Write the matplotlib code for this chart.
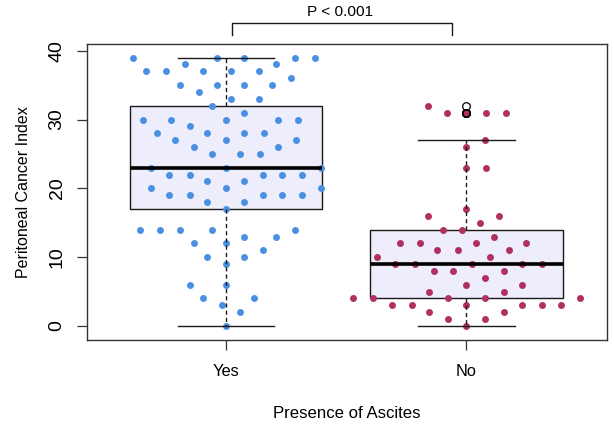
"""Peritoneal Cancer Index by presence of ascites: box plot with jittered points."""

import matplotlib

matplotlib.use("Agg")
import matplotlib.pyplot as plt

plt.rcParams["font.family"] = ["Liberation Sans", "DejaVu Sans"]

groups = ["Yes", "No"]

# PCI values, with the horizontal jitter each point had.
yes_values = [
    39, 39, 39, 39, 39, 38, 38, 37, 37, 37, 37, 37, 36, 35, 35, 35, 35, 34,
    33, 33, 32, 31, 30, 30, 30, 30, 30, 29, 28, 28, 28, 28, 27, 27, 27, 26,
    26, 25, 25, 25, 23, 23, 23, 22, 22, 22, 22, 22, 21, 21, 20, 20, 20, 19,
    19, 19, 19, 19, 18, 18, 17, 14, 14, 14, 14, 14, 13, 13, 12, 12, 11, 10,
    10, 9, 6, 6, 4, 4, 3, 2, 0,
]
yes_jitter = [
    -0.388, -0.037, 0.077, 0.288, 0.371, -0.170, 0.210, -0.331, -0.248,
    -0.096, 0.021, 0.136, 0.269, -0.191, -0.037, 0.077, 0.193, -0.114,
    0.021, 0.136, -0.056, 0.077, -0.345, -0.230, 0.0, 0.217, 0.299, -0.151,
    -0.287, -0.077, 0.077, 0.159, -0.210, 0.0, 0.292, -0.133, 0.217,
    -0.056, 0.058, 0.140, -0.311, 0.0, 0.395, -0.235, -0.151, 0.152, 0.234,
    0.317, -0.077, 0.077, -0.311, 0.0, 0.395, -0.235, -0.151, 0.152, 0.234,
    0.317, -0.077, 0.077, 0.0, -0.356, -0.273, -0.191, -0.056, 0.288, 0.077,
    0.210, -0.133, 0.0, 0.152, -0.077, 0.077, 0.0, -0.151, 0.0, -0.096,
    0.115, -0.018, 0.058, 0.0,
]

no_values = [
    32, 31, 31, 31, 31, 27, 26, 23, 23, 17, 16, 16, 15, 14, 14, 13, 12, 12,
    12, 12, 11, 11, 11, 10, 10, 9, 9, 9, 9, 9, 8, 8, 8, 7, 6, 6, 5, 5, 4, 4,
    4, 4, 4, 3, 3, 3, 3, 3, 3, 2, 2, 1, 1, 0,
]
no_jitter = [
    -0.158, -0.081, 0.0, 0.082, 0.165, 0.078, 0.0, 0.0, 0.082, 0.0, -0.158,
    0.135, 0.058, -0.098, -0.019, 0.116, -0.277, -0.195, 0.039, 0.249,
    -0.121, -0.037, 0.175, -0.371, 0.097, -0.296, -0.215, 0.021, 0.232,
    0.314, -0.137, -0.057, 0.154, 0.078, 0.0, 0.232, -0.154, 0.154, -0.470,
    -0.387, -0.076, 0.078, 0.470, -0.310, -0.227, 0.0, 0.232, 0.314, 0.393,
    -0.154, 0.154, -0.076, 0.078, 0.0,
]

p_label = "P < 0.001"

BLUE = "#4a90e2"
MAROON = "#b03060"
BOX_FILL = "#ededfc"
INK = "#1a1a1a"

fig = plt.figure(figsize=(6.14, 4.25), dpi=100)
ax = fig.add_axes([0.1412, 0.2, 0.8469, 0.6965])

bp = ax.boxplot(
    [yes_values, no_values],
    positions=[1, 2],
    widths=0.8,
    whis=1.5,
    patch_artist=True,
    capwidths=0.4,
    boxprops=dict(facecolor=BOX_FILL, edgecolor=INK, linewidth=1.0),
    medianprops=dict(color="black", linewidth=2.6, solid_capstyle="butt"),
    whiskerprops=dict(color=INK, linewidth=1.0, linestyle=(0, (3.0, 2.2))),
    capprops=dict(color=INK, linewidth=1.0),
    flierprops=dict(marker="o", markerfacecolor="none", markeredgecolor="black",
                    markersize=5.5, markeredgewidth=0.9),
)
for box in bp["boxes"]:
    box.set_zorder(1)
for key in ("medians", "whiskers", "caps", "fliers"):
    for line in bp[key]:
        line.set_zorder(3)

for pos, vals, jit, col in ((1, yes_values, yes_jitter, BLUE),
                            (2, no_values, no_jitter, MAROON)):
    ax.scatter([pos + j for j in jit], vals, s=25, color=col,
               linewidths=0, zorder=2)

ax.set_xlim(0.421, 2.583)
ax.set_ylim(-2.03, 40.97)
ax.set_xticks([1, 2])
ax.set_xticklabels(groups)
ax.set_yticks([0, 10, 20, 30, 40])

for side in ("top", "right", "left", "bottom"):
    ax.spines[side].set_color("#333333")
    ax.spines[side].set_linewidth(1.0)

ax.tick_params(axis="x", length=7.2, width=0.9, pad=10, labelsize=11.8,
               color="#333333")
ax.tick_params(axis="y", length=7.2, width=0.9, pad=8, labelsize=14,
               color="#333333", labelrotation=90)
for lab in ax.get_yticklabels():
    lab.set_va("center")

ax.set_xlabel("Presence of Ascites", fontsize=12.1, labelpad=19.5)
ax.set_ylabel("Peritoneal Cancer Index", fontsize=11.5, labelpad=13)

# Significance bracket above the plot region.
ax.plot([1.024, 1.024, 1.939, 1.939], [42.28, 44.06, 44.06, 42.28],
        color=INK, linewidth=1.0, clip_on=False)
ax.text(1.474, 45.66, p_label, ha="center", va="center", fontsize=11.1,
        clip_on=False)

fig.savefig("out.png", dpi=100)
plt.close(fig)
